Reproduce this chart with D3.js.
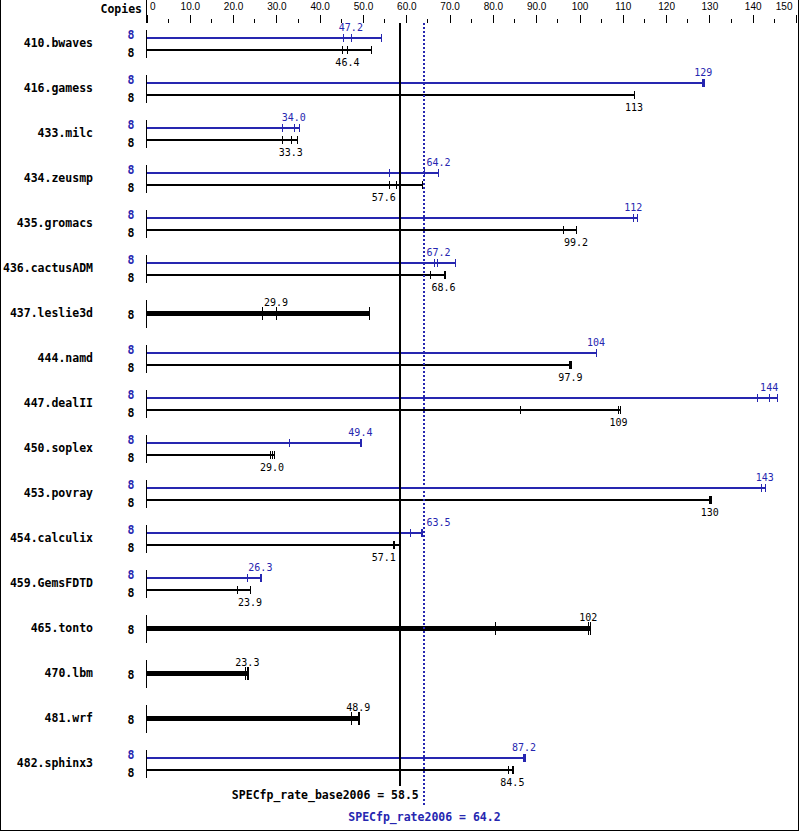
<!DOCTYPE html>
<html><head><meta charset="utf-8">
<script src="https://cdn.jsdelivr.net/npm/d3@7"></script>
<style>
html,body{margin:0;padding:0;background:#fff;}
svg{display:block;}
</style>
</head><body>
<script>
// ---- data ----
const benchmarks = ["410.bwaves","416.gamess","433.milc","434.zeusmp","435.gromacs","436.cactusADM","437.leslie3d","444.namd","447.dealII","450.soplex","453.povray","454.calculix","459.GemsFDTD","465.tonto","470.lbm","481.wrf","482.sphinx3"];
const copiesBase = [8,8,8,8,8,8,8,8,8,8,8,8,8,8,8,8,8];
const copiesPeak = [8,8,8,8,8,8,null,8,8,8,8,8,8,null,null,null,8];
const baseRuns = [
  [45.1,46.4,51.9],[112.5,112.6,112.7],[31.4,33.3,34.8],[56.1,57.6,63.6],
  [96.3,99.2,99.3],[65.4,68.6,69.0],[26.6,29.9,51.5],[97.6,97.9,98.0],
  [86.3,109,109.3],[28.5,29.0,29.5],[130.0,130.1,130.3],[56.9,57.1,58.2],
  [21.0,23.9,24.0],[80.6,102.0,102.4],[22.7,23.3,23.4],[47.2,48.9,49.0],
  [83.6,84.5,84.6]
];
const peakRuns = [
  [45.4,47.2,54.2],[128.2,128.6,128.7],[31.2,34.0,35.3],[56.1,64.2,67.4],
  [112.3,112.4,113.2],[66.5,67.2,71.2],null,[103.7,103.8,103.9],
  [141.1,143.8,145.7],[32.8,49.4,49.6],[141.9,142.8,142.9],[60.9,63.5,63.6],
  [23.3,26.3,26.5],null,null,null,
  [87.0,87.2,87.4]
];
const majorTicks = [0,10,20,30,40,50,60,70,80,90,100,110,120,130,140,150];
const minorTicks = [5,15,25,35,45,55,65,75,85,95,105,115,125,135,145];
const tickLabels = ["0","10.0","20.0","30.0","40.0","50.0","60.0","70.0","80.0","90.0","100","110","120","130","140","150"];
const baseScore = 58.5;
const peakScore = 64.2;
const baseScoreLabel = "SPECfp_rate_base2006 = 58.5";
const peakScoreLabel = "SPECfp_rate2006 = 64.2";

// ---- style ----
const W = 799, H = 831;
const BLUE = "#2626b0";
const MONO = "'DejaVu Sans Mono', 'Liberation Mono', monospace";

const svg = d3.select("body").append("svg").attr("width", W).attr("height", H)
  .style("font-family", MONO);

const x = d3.scaleLinear().domain([0,150]).range([146.5, 796]);
const y = d3.scalePoint().domain(benchmarks).range([44, 44 + 45*16]);

// border (left, right, bottom)
svg.append("path").attr("d", `M0.5,0 V830.5 H798.5 V0`)
  .attr("fill","none").attr("stroke","#000").attr("shape-rendering","crispEdges");

// ---- top axis ----
const axisG = svg.append("g").attr("transform","translate(0,15)")
  .call(d3.axisBottom(x).tickValues(majorTicks).tickSize(8).tickFormat((d,i)=>tickLabels[i]));
axisG.select(".domain").remove();
axisG.selectAll("line").attr("stroke","#000").attr("shape-rendering","crispEdges");
axisG.selectAll("text").attr("y",-5).attr("dy",0).attr("fill","#000")
  .style("font-family","'Liberation Sans', Arial, sans-serif").style("font-size","10px")
  .each(function(d,i){
    const t = d3.select(this);
    if (i===0) t.attr("text-anchor","start").attr("x",3);
    if (i===majorTicks.length-1) t.attr("text-anchor","end").attr("x",-4);
  });
axisG.attr("font-size",null).attr("font-family",null);
svg.append("g").selectAll("line").data(minorTicks).join("line")
  .attr("x1",d=>x(d)).attr("x2",d=>x(d)).attr("y1",19).attr("y2",23)
  .attr("stroke","#000").attr("shape-rendering","crispEdges");
svg.append("line").attr("x1",x(0)).attr("x2",x(0)).attr("y1",0).attr("y2",23)
  .attr("stroke","#000").attr("shape-rendering","crispEdges");
svg.append("text").attr("x",142).attr("y",12.5).attr("text-anchor","end")
  .style("font-weight","bold").style("font-size","11.5px").text("Copies");

// ---- rows ----
const vlines = [x(baseScore), x(peakScore)];
function placeLabel(textSel, m){
  const w = textSel.node().getComputedTextLength();
  const overlaps = (l,r)=> vlines.some(v => v >= l-1 && v <= r+1);
  let l = m - w/2, r = m + w/2;
  if (overlaps(l,r)) {
    const hit = vlines.filter(v => v >= l-1 && v <= r+1);
    const v = hit[0];
    let l2 = v - 4 - w, r2 = v - 4;
    if (!overlaps(l2, r2)) { l = l2; }
    else { l = d3.max(hit) + 2; }
  }
  textSel.attr("text-anchor","start").attr("x", l);
}

const rows = svg.append("g");
benchmarks.forEach((b,i)=>{
  const c = y(b);
  const g = rows.append("g");
  const pr = peakRuns[i], br = baseRuns[i];
  g.append("text").attr("x",93).attr("y",c+3).attr("text-anchor","end")
    .style("font-weight","bold").style("font-size","11.5px").text(b);
  g.append("line").attr("x1",x(0)).attr("x2",x(0)).attr("y1",c-14).attr("y2",c+14)
    .attr("stroke","#000").attr("shape-rendering","crispEdges");

  function drawSeries(runs, ly, color, thick, labelPos, copies, copiesY){
    const sw = thick ? 5 : 2;
    const th = thick ? 6.5 : 4;
    g.append("line").attr("x1",x(0)).attr("x2",x(d3.max(runs))).attr("y1",ly).attr("y2",ly)
      .attr("stroke",color).attr("stroke-width",sw).attr("shape-rendering","crispEdges");
    g.selectAll(null).data(runs).join("line")
      .attr("x1",d=>Math.round(x(d))+0.5).attr("x2",d=>Math.round(x(d))+0.5)
      .attr("y1",ly-th).attr("y2",ly+th)
      .attr("stroke",color).attr("stroke-width",1).attr("shape-rendering","crispEdges");
    const med = d3.median(runs);
    const t = g.append("text").attr("y", labelPos).attr("fill",color)
      .style("font-size","10px").text(d3.format(".3r")(med));
    placeLabel(t, x(med));
    g.append("text").attr("x",131).attr("y",copiesY).attr("text-anchor","middle")
      .attr("fill",color).style("font-weight","bold").style("font-size","11.5px").text(copies);
  }
  if (pr) {
    drawSeries(pr, c-6, BLUE, false, c-13, copiesPeak[i], c-5.5);
    drawSeries(br, c+6, "#000", false, c+22, copiesBase[i], c+13);
  } else {
    drawSeries(br, c-0.5, "#000", true, c-8, copiesBase[i], c+4.5);
  }
});

// ---- score lines ----
const xb = Math.round(x(baseScore)), xp = Math.round(x(peakScore));
svg.append("line").attr("x1",xb).attr("x2",xb).attr("y1",23).attr("y2",786)
  .attr("stroke","#000").attr("stroke-width",2).attr("shape-rendering","crispEdges");
svg.append("line").attr("x1",xp).attr("x2",xp).attr("y1",23).attr("y2",807)
  .attr("stroke",BLUE).attr("stroke-width",2).attr("stroke-dasharray","2,2").attr("shape-rendering","crispEdges");
svg.append("text").attr("x",x(baseScore)+19).attr("y",799).attr("text-anchor","end")
  .style("font-weight","bold").style("font-size","11.5px").text(baseScoreLabel);
svg.append("text").attr("x",x(peakScore)).attr("y",821).attr("text-anchor","middle").attr("fill",BLUE)
  .style("font-weight","bold").style("font-size","11.5px").text(peakScoreLabel);
</script>
</body></html>
